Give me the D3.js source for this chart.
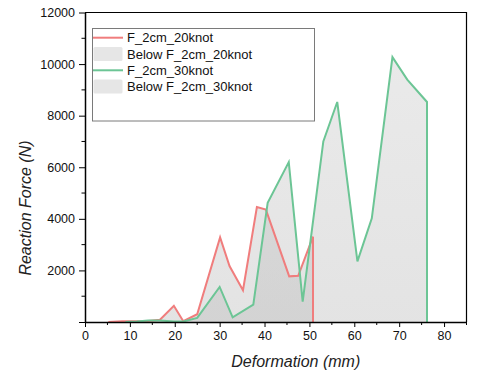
<!DOCTYPE html>
<html>
<head>
<meta charset="utf-8">
<script src="https://cdn.jsdelivr.net/npm/d3@7"></script>
<style>
  body { margin: 0; background: #fff; }
  text { font-family: "Liberation Sans", Arial, sans-serif; }
</style>
</head>
<body>
<div id="chart"></div>
<script>
// data
let defo20 = [5.2, 8.3, 10.8, 14.1, 16.7, 19.8, 21.9, 25.0, 30.1, 32.2, 35.2, 38.3, 40.3, 45.5, 47.5, 50.8, 50.8]
let force20 = [0, 30, 30, 40, 90, 630, 30, 300, 3280, 2170, 1230, 4460, 4360, 1770, 1790, 3310, 0]
let defo30 = [9.0, 11.5, 14.1, 16.7, 19.8, 21.9, 25.0, 30.0, 32.9, 37.5, 40.7, 45.4, 48.5, 53.1, 56.2, 60.7, 63.9, 68.5, 71.8, 76.2, 76.2]
let force30 = [0, 20, 60, 60, 20, 20, 160, 1360, 180, 670, 4620, 6200, 790, 7000, 8530, 2350, 4020, 10270, 9400, 8530, 0]
let seriesNames = ["F_2cm_20knot", "F_2cm_30knot"]
let xTicks = [0, 10, 20, 30, 40, 50, 60, 70, 80]
let yTicks = [0, 2000, 4000, 6000, 8000, 10000, 12000]

let cfg = {
  w: 480,
  h: 380,
  left: 85,
  right: 466.5,
  top: 12.5,
  bottom: 322,
  red: "#f07d7d",
  green: "#6cc595"
}

let svg = d3.select("#chart")
  .append("svg")
  .attr("width", cfg.w)
  .attr("height", cfg.h)

let x = d3.scaleLinear().domain([0, 85]).range([cfg.left, cfg.right])
let y = d3.scaleLinear().domain([0, 12000]).range([cfg.bottom, cfg.top])

// gray gradient used by both "Below" areas
let grad = svg.append("defs").append("linearGradient")
  .attr("id", "below")
  .attr("gradientUnits", "userSpaceOnUse")
  .attr("x1", 0).attr("y1", cfg.top)
  .attr("x2", 0).attr("y2", cfg.bottom)
grad.append("stop").attr("offset", "0%").attr("stop-color", "#cfcfcf")
grad.append("stop").attr("offset", "100%").attr("stop-color", "#bdbdbd")

let series = [
  { name: seriesNames[0], color: cfg.red, pts: defo20.map((d, i) => [d, force20[i]]) },
  { name: seriesNames[1], color: cfg.green, pts: defo30.map((d, i) => [d, force30[i]]) }
]

let area = d3.area()
  .x(d => x(d[0]))
  .y0(y(0))
  .y1(d => y(d[1]))
let line = d3.line()
  .x(d => x(d[0]))
  .y(d => y(d[1]))

svg.selectAll(".area")
  .data(series)
  .enter()
  .append("path")
  .attr("class", "area")
  .attr("d", d => area(d.pts))
  .style("fill", "url(#below)")
  .style("fill-opacity", 0.42)

svg.selectAll(".line")
  .data(series)
  .enter()
  .append("path")
  .attr("class", "line")
  .attr("d", d => line(d.pts))
  .style("fill", "none")
  .style("stroke", d => d.color)
  .style("stroke-width", "2px")
  .style("stroke-linejoin", "miter")

// frame top / right
svg.append("path")
  .attr("d", `M${cfg.left},${cfg.top}H${cfg.right}V${cfg.bottom}`)
  .style("fill", "none")
  .style("stroke", "#000")
  .style("stroke-width", "1.2px")

// x axis
let xAxis = svg.append("g")
  .attr("transform", `translate(0,${cfg.bottom})`)
  .call(d3.axisBottom(x).tickValues(xTicks).tickSize(5).tickSizeOuter(0).tickPadding(4))
xAxis.append("g")
  .selectAll("line")
  .data(d3.range(5, 90, 10))
  .enter()
  .append("line")
  .attr("x1", d => x(d)).attr("x2", d => x(d))
  .attr("y1", 0).attr("y2", 3)
  .style("stroke", "#000")

// y axis
let yAxis = svg.append("g")
  .attr("transform", `translate(${cfg.left},0)`)
  .call(d3.axisLeft(y).tickValues(yTicks).tickSize(6).tickSizeOuter(0).tickPadding(4)
    .tickFormat(d => d === 0 ? "" : d))
yAxis.append("g")
  .selectAll("line")
  .data(d3.range(1000, 12000, 2000))
  .enter()
  .append("line")
  .attr("x1", 0).attr("x2", -3.5)
  .attr("y1", d => y(d)).attr("y2", d => y(d))
  .style("stroke", "#000")

svg.selectAll(".domain").style("stroke-width", "1.5px")
svg.selectAll(".tick text")
  .style("font-size", "12.5px")
  .style("font-family", "Liberation Sans, Arial, sans-serif")
  .attr("fill", "#111")

// axis titles
svg.append("text")
  .attr("x", (cfg.left + cfg.right) / 2 + 20)
  .attr("y", 367)
  .attr("text-anchor", "middle")
  .style("font-size", "16px")
  .style("font-style", "italic")
  .attr("fill", "#222")
  .text("Deformation (mm)")

svg.append("text")
  .attr("transform", "translate(31,208) rotate(-90)")
  .attr("text-anchor", "middle")
  .style("font-size", "16px")
  .style("font-style", "italic")
  .attr("fill", "#222")
  .text("Reaction Force (N)")

// legend
let legend = svg.append("g")
legend.append("rect")
  .attr("x", 92.5).attr("y", 28.5)
  .attr("width", 222).attr("height", 92.5)
  .style("fill", "#fff")
  .style("stroke", "#7a7a7a")
  .style("stroke-width", "1px")

let legendRows = [
  { label: series[0].name, type: "line", color: series[0].color },
  { label: "Below " + series[0].name, type: "area" },
  { label: series[1].name, type: "line", color: series[1].color },
  { label: "Below " + series[1].name, type: "area" }
]
legendRows.forEach(function (r, i) {
  let cy = 37.7 + i * 16.3
  if (r.type === "line") {
    legend.append("line")
      .attr("x1", 93).attr("x2", 123)
      .attr("y1", cy).attr("y2", cy)
      .style("stroke", r.color)
      .style("stroke-width", "2px")
  } else {
    legend.append("rect")
      .attr("x", 93.5).attr("y", cy - 7)
      .attr("width", 29).attr("height", 14)
      .attr("rx", 1.5)
      .style("fill", "#e6e6e6")
  }
  legend.append("text")
    .attr("x", 127)
    .attr("y", cy)
    .attr("dy", "0.36em")
    .style("font-size", "13px")
    .attr("fill", "#111")
    .text(r.label)
})
</script>
</body>
</html>
